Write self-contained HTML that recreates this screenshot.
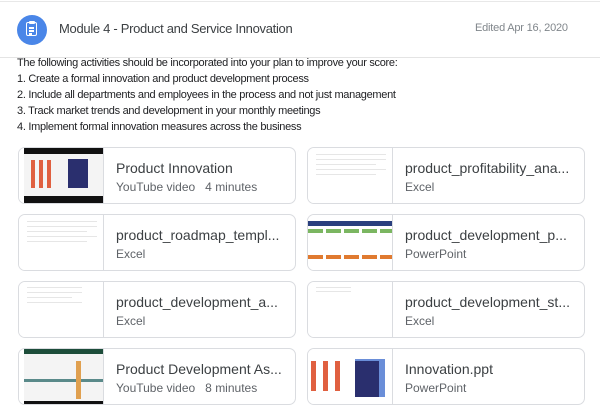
<!DOCTYPE html>
<html><head><style>
body{margin:0;width:600px;height:416px;background:#fff;font-family:"Liberation Sans",Arial,sans-serif;position:relative;overflow:hidden;}
.hdr{position:absolute;left:0;top:1px;width:600px;height:55px;border-top:1px solid #e8e8e8;border-bottom:1px solid #e4e4e4;}
.ic{position:absolute;left:17px;top:13px;width:30px;height:30px;border-radius:50%;background:#4a86e8;}
.ic .b{position:absolute;left:9px;top:7px;width:11px;height:14px;border:1.5px solid #fff;border-radius:2px;box-sizing:border-box;}
.ic .b i{position:absolute;left:2px;width:5px;height:1.5px;background:#fff;}
.ic .c{position:absolute;left:12px;top:6px;width:6px;height:3px;background:#fff;border-radius:1px;}
.t{position:absolute;left:59px;top:19px;font-size:13px;color:#3c4043;letter-spacing:-0.3px;}
.d{position:absolute;left:475px;top:20px;font-size:11px;color:#80868b;letter-spacing:-0.2px;}
.txt{position:absolute;left:17px;top:55px;font-size:11px;line-height:16px;color:#202124;letter-spacing:-0.3px;}
.card{position:absolute;width:278px;height:57px;border:1px solid #dadce0;border-radius:7px;box-sizing:border-box;overflow:hidden;}
.th{position:absolute;left:0;top:0;width:84px;height:100%;border-right:1px solid #dadce0;background:#fff;}
.nm{position:absolute;left:97px;top:12px;font-size:14px;color:#3c4043;white-space:nowrap;}
.sb{position:absolute;left:97px;top:32px;font-size:12px;color:#5f6368;}
.ln{position:absolute;height:1px;background:#e6e6e6;}
</style></head><body>
<div class="hdr">
<div class="ic"><div class="b"><i style="top:4px"></i><i style="top:7px"></i><i style="top:10px;width:3px"></i></div><div class="c"></div></div>
<div class="t">Module 4 - Product and Service Innovation</div>
<div class="d">Edited Apr 16, 2020</div>
</div>
<div class="txt">The following activities should be incorporated into your plan to improve your score:<br>1. Create a formal innovation and product development process<br>2. Include all departments and employees in the process and not just management<br>3. Track market trends and development in your monthly meetings<br>4. Implement formal innovation measures across the business</div>

<div class="card" style="left:18px;top:147px"><div class="th"><div style="position:absolute;left:5px;top:0;width:79px;height:57px;background:#111"></div><div style="position:absolute;left:5px;top:6px;width:79px;height:42px;background:#f4f4f4"></div><div style="position:absolute;left:12px;top:12px;width:24px;height:28px;background:repeating-linear-gradient(90deg,#e06040 0 4px,#f4f4f4 4px 8px)"></div><div style="position:absolute;left:49px;top:11px;width:20px;height:29px;background:#2a2f6e"></div></div><div class="nm">Product Innovation</div><div class="sb">YouTube video &nbsp; 4 minutes</div></div>

<div class="card" style="left:307px;top:147px"><div class="th"><div class="ln" style="left:8px;top:6px;width:70px"></div><div class="ln" style="left:8px;top:11px;width:70px"></div><div class="ln" style="left:8px;top:16px;width:60px"></div><div class="ln" style="left:8px;top:21px;width:70px"></div><div class="ln" style="left:8px;top:26px;width:60px"></div></div><div class="nm">product_profitability_ana...</div><div class="sb">Excel</div></div>

<div class="card" style="left:18px;top:214px"><div class="th"><div class="ln" style="left:8px;top:6px;width:70px"></div><div class="ln" style="left:8px;top:11px;width:70px"></div><div class="ln" style="left:8px;top:16px;width:60px"></div><div class="ln" style="left:8px;top:21px;width:70px"></div><div class="ln" style="left:8px;top:26px;width:60px"></div></div><div class="nm">product_roadmap_templ...</div><div class="sb">Excel</div></div>

<div class="card" style="left:307px;top:214px"><div class="th"><div style="position:absolute;left:0;top:6px;width:84px;height:5px;background:#2a3f7e"></div><div style="position:absolute;left:0;top:14px;width:84px;height:4px;background:repeating-linear-gradient(90deg,#7bb661 0 15px,#fff 15px 18px)"></div><div style="position:absolute;left:0;top:40px;width:84px;height:4px;background:repeating-linear-gradient(90deg,#e07a30 0 15px,#fff 15px 18px)"></div></div><div class="nm">product_development_p...</div><div class="sb">PowerPoint</div></div>

<div class="card" style="left:18px;top:281px"><div class="th"><div class="ln" style="left:8px;top:5px;width:55px"></div><div class="ln" style="left:8px;top:10px;width:55px"></div><div class="ln" style="left:8px;top:15px;width:45px"></div><div class="ln" style="left:8px;top:20px;width:55px"></div></div><div class="nm">product_development_a...</div><div class="sb">Excel</div></div>

<div class="card" style="left:307px;top:281px"><div class="th"><div class="ln" style="left:8px;top:5px;width:35px"></div><div class="ln" style="left:8px;top:9px;width:35px"></div></div><div class="nm">product_development_st...</div><div class="sb">Excel</div></div>

<div class="card" style="left:18px;top:348px"><div class="th"><div style="position:absolute;left:5px;top:0;width:79px;height:57px;background:#f4f4f4"></div><div style="position:absolute;left:5px;top:0;width:79px;height:5px;background:#1d4d3a"></div><div style="position:absolute;left:5px;top:52px;width:79px;height:5px;background:#111"></div><div style="position:absolute;left:5px;top:30px;width:79px;height:3px;background:#5a8a8a"></div><div style="position:absolute;left:57px;top:12px;width:5px;height:38px;background:#e0a050"></div></div><div class="nm">Product Development As...</div><div class="sb">YouTube video &nbsp; 8 minutes</div></div>

<div class="card" style="left:307px;top:348px"><div class="th"><div style="position:absolute;left:3px;top:12px;width:36px;height:30px;background:repeating-linear-gradient(90deg,#e06040 0 5px,#fff 5px 12px)"></div><div style="position:absolute;left:47px;top:10px;width:30px;height:38px;background:#6a8ed8"></div><div style="position:absolute;left:47px;top:12px;width:24px;height:36px;background:#2a2f6e"></div></div><div class="nm">Innovation.ppt</div><div class="sb">PowerPoint</div></div>
</body></html>
